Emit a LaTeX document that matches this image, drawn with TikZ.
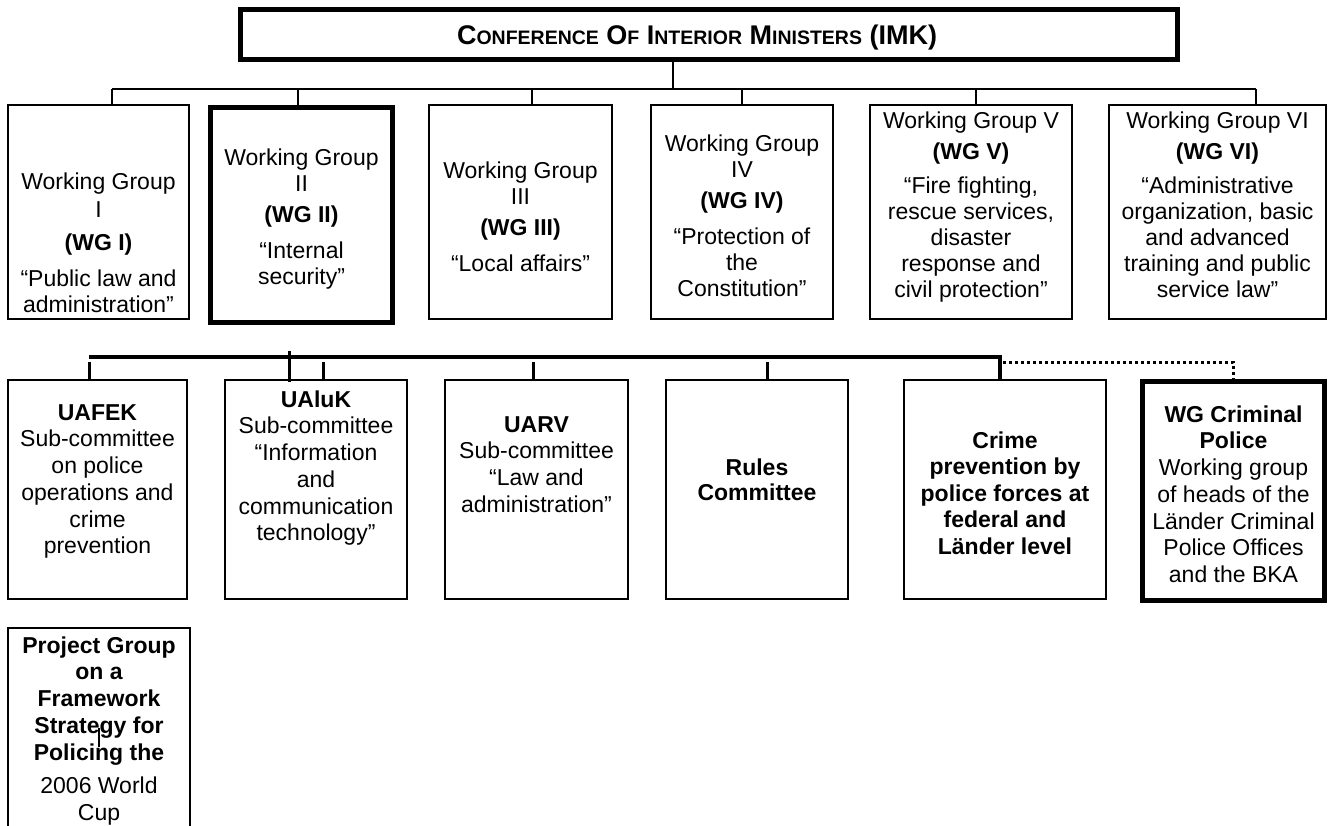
\documentclass[tikz,border=0pt]{standalone}
\usepackage{fontspec}
\setmainfont{Liberation Sans}
\usetikzlibrary{fit}
% fixed first-line height so every text block can be placed by its first baseline
\newcommand\fl{\rule{0pt}{18pt}}
% hand-made small capitals for the heading
\newcommand\capword[2]{{\fontsize{27}{30}\selectfont #1}{\fontsize{19.5}{30}\selectfont #2}}

\begin{document}
\begin{tikzpicture}[x=1pt,y=-1pt,
  box/.style={draw, line width=2pt, inner sep=0pt},
  heavybox/.style={draw, line width=5pt, inner sep=0pt},
  txt/.style={inner sep=0pt, align=center, anchor=north, font=\fontsize{23}{26}\selectfont},
  subtxt/.style={inner sep=0pt, align=center, anchor=north, font=\fontsize{23}{26.7}\selectfont},
  thinlink/.style={line width=1.5pt},
  buslink/.style={line width=3.5pt},
  droplink/.style={line width=3pt},
  dotlink/.style={line width=3pt, dash pattern=on 3pt off 3pt}]
\useasboundingbox (0,0) rectangle (1329,825);
\clip (0,0) rectangle (1329,825);

% ---------- conference ----------
\node[heavybox, fit={(240.5,9.5) (1177.5,59.5)}] (imk) {};
\node[inner sep=0pt, anchor=base, font=\bfseries\fontsize{27}{30}\selectfont] (imkt) at (697,44)
  {\capword{C}{ONFERENCE} \capword{O}{F} \capword{I}{NTERIOR} \capword{M}{INISTERS} (IMK)};

% ---------- working groups ----------
\node[box, fit={(8,105) (189,319)}] (wg1) {};
\node[heavybox, fit={(210.5,107.5) (392.5,322.5)}] (wg2) {};
\node[box, fit={(429,105) (612,319)}] (wg3) {};
\node[box, fit={(651,105) (833,319)}] (wg4) {};
\node[box, fit={(870,105) (1072,319)}] (wg5) {};
\node[box, fit={(1109,105) (1326,319)}] (wg6) {};

\node[txt] (wg1t) at (98.5,171) {\fl Working Group\\[2pt]I\\[7pt]\textbf{(WG I)}\\[10pt]“Public law and\\administration”};
\node[txt] (wg2t) at (301.5,147) {\fl Working Group\\II\\[5pt]\textbf{(WG II)}\\[10pt]“Internal\\security”};
\node[txt] (wg3t) at (520.5,160) {\fl Working Group\\III\\[5pt]\textbf{(WG III)}\\[10pt]“Local affairs”};
\node[txt] (wg4t) at (742,133) {\fl Working Group\\IV\\[5pt]\textbf{(WG IV)}\\[10pt]“Protection of\\the\\Constitution”};
\node[txt] (wg5t) at (971,110) {\fl Working Group V\\[5pt]\textbf{(WG V)}\\[8pt]“Fire fighting,\\rescue services,\\disaster\\response and\\civil protection”};
\node[txt] (wg6t) at (1217.5,110) {\fl Working Group VI\\[5pt]\textbf{(WG VI)}\\[8pt]“Administrative\\organization, basic\\and advanced\\training and public\\service law”};

% ---------- committees of WG II ----------
\node[box, fit={(8,380) (187,599)}] (uafek) {};
\node[box, fit={(225,380) (407,599)}] (ualuk) {};
\node[box, fit={(445,380) (628,599)}] (uarv) {};
\node[box, fit={(666,380) (848,599)}] (rules) {};
\node[box, fit={(904,380) (1106,599)}] (crime) {};
\node[heavybox, fit={(1142.5,381.5) (1324.5,600.5)}] (wgcrim) {};
\node[box, fit={(8,628) (190,870)}] (proj) {};

\node[subtxt] (uafekt) at (97.5,402) {\fl\textbf{UAFEK}\\Sub-committee\\on police\\operations and\\crime\\prevention};
\node[subtxt] (ualukt) at (316,389) {\fl\textbf{UAluK}\\Sub-committee\\“Information\\and\\communication\\technology”};
\node[subtxt] (uarvt) at (536.5,414) {\fl\textbf{UARV}\\Sub-committee\\“Law and\\administration”};
\node[subtxt, font=\bfseries\fontsize{23}{25}\selectfont] (rulest) at (757,457) {\fl Rules\\Committee};
\node[subtxt, font=\bfseries\fontsize{23}{26.5}\selectfont] (crimet) at (1005,430) {\fl Crime\\prevention by\\police forces at\\federal and\\Länder level};
\node[subtxt] (wgcrimt) at (1233.5,404) {\fl\textbf{WG Criminal}\\\textbf{Police}\\Working group\\of heads of the\\Länder Criminal\\Police Offices\\and the BKA};
\node[subtxt] (projt) at (99,635) {\fl\textbf{Project Group}\\\textbf{on a}\\\textbf{Framework}\\\textbf{Strategy for}\\\textbf{Policing the}\\[7pt]2006 World\\Cup};

% ---------- connectors, upper level ----------
\coordinate (hub) at (673,89);
\coordinate (t1) at (112,89);
\coordinate (t2) at (298,89);
\coordinate (t3) at (532,89);
\coordinate (t4) at (742,89);
\coordinate (t5) at (976,89);
\coordinate (t6) at (1256,89);
\draw[thinlink] (imk.south -| hub) -- (hub);
\draw[thinlink] (t1) -- (t6);
\draw[thinlink] (t1) -- (t1 |- wg1.north);
\draw[thinlink] (t2) -- (t2 |- wg2.north);
\draw[thinlink] (t3) -- (t3 |- wg3.north);
\draw[thinlink] (t4) -- (t4 |- wg4.north);
\draw[thinlink] (t5) -- (t5 |- wg5.north);
\draw[thinlink] (t6) -- (t6 |- wg6.north);

% ---------- connectors, lower level ----------
\coordinate (busL) at (89,357);
\coordinate (busR) at (1000,357);
\draw[buslink] (busL) -- (busR) -- (busR |- crime.north);
\coordinate (d1) at (89,362);
\coordinate (d2) at (323,362);
\coordinate (d3) at (533,362);
\coordinate (d4) at (767,362);
\draw[droplink] (d1) -- (d1 |- uafek.north);
\draw[droplink] (d2) -- (d2 |- ualuk.north);
\draw[droplink] (d3) -- (d3 |- uarv.north);
\draw[droplink] (d4) -- (d4 |- rules.north);
\coordinate (x1) at (289,351);
\coordinate (x2) at (289,382);
\draw[droplink] (x1) -- (x2);
\coordinate (dotA) at (1003,362);
\coordinate (dotB) at (1233,362);
\draw[dotlink] (dotA) -- (dotB) -- (dotB |- wgcrim.north);
\coordinate (s1) at (99,728);
\coordinate (s2) at (99,747);
\draw[line width=1.2pt] (s1) -- (s2);
\end{tikzpicture}
\end{document}
